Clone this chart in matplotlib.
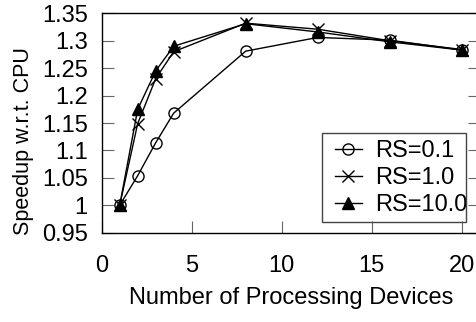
import matplotlib
matplotlib.use("Agg")
import matplotlib.pyplot as plt
from matplotlib.patches import Rectangle

plt.rcParams["font.family"] = ["Liberation Sans", "DejaVu Sans"]

devices = [1, 2, 3, 4, 8, 12, 16, 20]
rs_01 = [1.0, 1.054, 1.114, 1.168, 1.281, 1.306, 1.301, 1.283]
rs_10 = [1.0, 1.149, 1.231, 1.280, 1.332, 1.321, 1.300, 1.284]
rs_100 = [1.0, 1.175, 1.245, 1.290, 1.331, 1.316, 1.298, 1.283]

yticks = [0.95, 1.0, 1.05, 1.1, 1.15, 1.2, 1.25, 1.3, 1.35]
ytick_labels = ["0.95", "1", "1.05", "1.1", "1.15", "1.2", "1.25", "1.3", "1.35"]
xticks = [0, 5, 10, 15, 20]

FS = 17
W, H = 477, 322

fig = plt.figure(figsize=(W / 100, H / 100), dpi=100)
# plot frame runs slightly past the right edge of the image (x max ~21)
ax = fig.add_axes([101.7 / W, 1 - 232.7 / H, 378 / W, 219.4 / H])

ax.plot(devices, rs_01, "-o", color="black", lw=1.0, ms=8, mfc="none",
        mew=1.0, label="RS=0.1")
ax.plot(devices, rs_10, "-x", color="black", lw=1.0, ms=9, mew=1.0,
        label="RS=1.0")
ax.plot(devices, rs_100, "-^", color="black", lw=1.0, ms=8, label="RS=10.0")

ax.set_xlim(0, 21)
ax.set_ylim(0.95, 1.35)
ax.set_xticks(xticks)
ax.set_yticks(yticks)
ax.set_yticklabels(ytick_labels)
ax.tick_params(direction="in", length=8.6, width=0.8, labelsize=FS, color="#666666")
ax.tick_params(axis="y", right=True, pad=10)
ax.tick_params(axis="x", pad=16)
for s in ax.spines.values():
    s.set_linewidth(1.0)

ax.set_xlabel("Number of Processing Devices", fontsize=FS, labelpad=7)
ax.set_ylabel("Speedup w.r.t. CPU", fontsize=15.5)
ax.yaxis.set_label_coords(-0.18, 0.418)

leg = ax.legend(loc="center left", bbox_to_anchor=(335 / W, 1 - 178 / H),
                bbox_transform=fig.transFigure, fontsize=FS, frameon=False,
                borderpad=0, handlelength=1.14, handletextpad=0.55,
                labelspacing=0.22, borderaxespad=0)
fig.patches.append(Rectangle((322 / W, 1 - 222 / H), 144 / W, 89 / H,
                             transform=fig.transFigure, fill=False,
                             edgecolor="#444444", lw=1.0))

fig.savefig("out.png", dpi=100)
